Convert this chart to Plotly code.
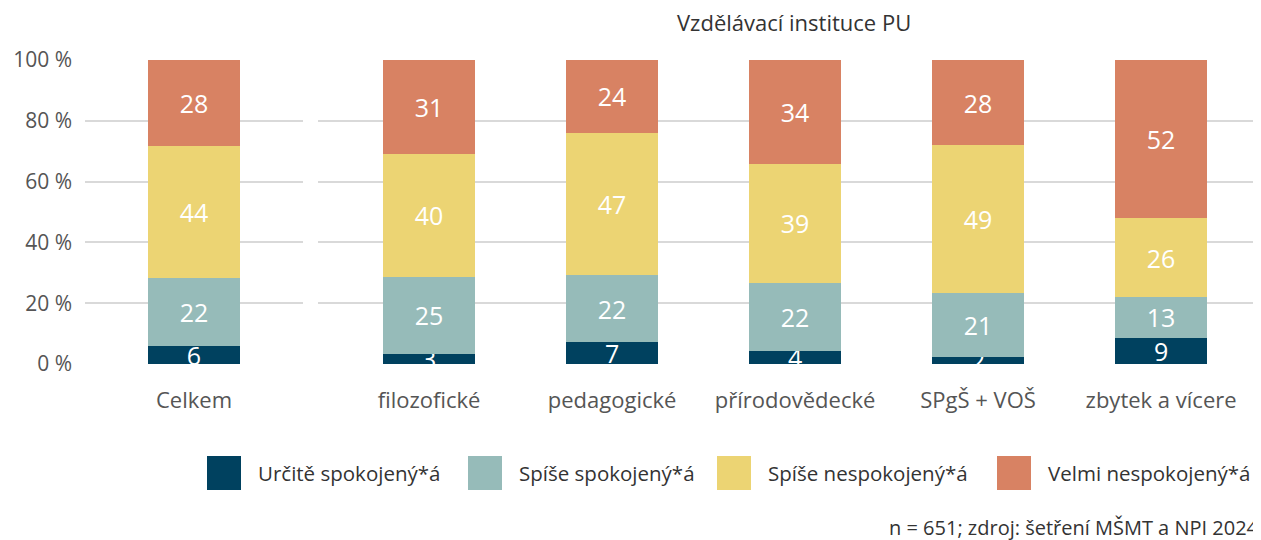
import plotly.graph_objects as go

# Page body has an 8px margin; lay out in reference pixel coordinates.
OFF = 8
W, H = 1261 - OFF, 540 - OFF


def px(x):
    return (x - OFF) / W


def py(y):
    return 1 - (y - OFF) / H


series_names = ["Určitě spokojený*á", "Spíše spokojený*á", "Spíše nespokojený*á", "Velmi nespokojený*á"]
colors = ["#00415f", "#96bbb9", "#ecd473", "#d88263"]

total_cat = ["Celkem"]
total_vals = [[5.9], [22.3], [43.6], [28.2]]

inst_cats = ["filozofické", "pedagogické", "přírodovědecké", "SPgŠ + VOŠ", "zbytek a vícere"]
inst_vals = [
    [3.4, 7.2, 4.4, 2.4, 8.7],
    [25.3, 22.1, 22.4, 21.0, 13.2],
    [40.4, 46.7, 39.0, 48.6, 26.1],
    [30.9, 24.0, 34.2, 28.0, 52.0],
]
y_ticks = [0, 20, 40, 60, 80, 100]
y_tick_labels = ["0 %", "20 %", "40 %", "60 %", "80 %", "100 %"]

FONT = "Open Sans"
TXT = "#555555"
fig = go.Figure()

for i, name in enumerate(series_names):
    common = dict(
        name=name, marker_color=colors[i], marker_line_width=0,
        texttemplate="%{y:.0f}", textposition="inside", insidetextanchor="middle",
        textangle=0, textfont=dict(color="white", size=25, family=FONT), cliponaxis=False,
        width=0.503, showlegend=False, hoverinfo="name+y",
    )
    fig.add_trace(go.Bar(x=total_cat, y=total_vals[i], xaxis="x", yaxis="y", **common))
    fig.add_trace(go.Bar(x=inst_cats, y=inst_vals[i], xaxis="x2", yaxis="y2", **common))

ydom = [py(364), py(60)]
grid = dict(showgrid=True, gridcolor="#d9d9d9", gridwidth=2, zeroline=False,
            range=[0, 100.001], tickvals=y_ticks, fixedrange=True)
xcommon = dict(showgrid=False, ticks="", tickfont=dict(size=22, color=TXT),
               automargin=False, ticklabelstandoff=21)
fig.update_layout(
    barmode="stack",
    width=W, height=H,
    margin=dict(l=0, r=0, t=0, b=0),
    paper_bgcolor="white", plot_bgcolor="white",
    font=dict(family=FONT, color=TXT, size=22),
    uniformtext=dict(minsize=25, mode="show"),
    xaxis=dict(domain=[px(85), px(303)], range=[-0.596, 0.596], **xcommon),
    xaxis2=dict(domain=[px(318), 1.0], range=[-0.607, 4.546], **xcommon),
    yaxis=dict(domain=ydom, ticktext=y_tick_labels, ticks="", automargin=False,
               ticklabelstandoff=12, tickfont=dict(size=21, color=TXT), **grid),
    yaxis2=dict(domain=ydom, anchor="x2", showticklabels=False, ticks="",
                automargin=False, **grid),
    showlegend=False,
)

# Panel title
fig.add_annotation(text="Vzdělávací instituce PU", xref="paper", yref="paper",
                   x=px(794), y=py(22), showarrow=False, xanchor="center",
                   yanchor="middle", font=dict(size=22, color="#333333", family=FONT))

# Custom legend
leg_x = [207, 468, 717, 997]
for i, name in enumerate(series_names):
    x0 = leg_x[i]
    fig.add_shape(type="rect", xref="paper", yref="paper",
                  x0=px(x0), x1=px(x0 + 34), y0=py(490), y1=py(456),
                  fillcolor=colors[i], line_width=0)
    fig.add_annotation(text=name, xref="paper", yref="paper",
                       x=px(x0 + 49), y=py(473), showarrow=False,
                       xanchor="left", yanchor="middle",
                       font=dict(size=20.5, color="#333333", family=FONT))

fig.add_annotation(text="n = 651; zdroj: šetření MŠMT a NPI 2024", xref="paper", yref="paper",
                   x=1.0, y=py(527), showarrow=False, xanchor="right",
                   yanchor="middle", font=dict(size=20, color="#333333", family=FONT))

fig.write_html("out.html")
